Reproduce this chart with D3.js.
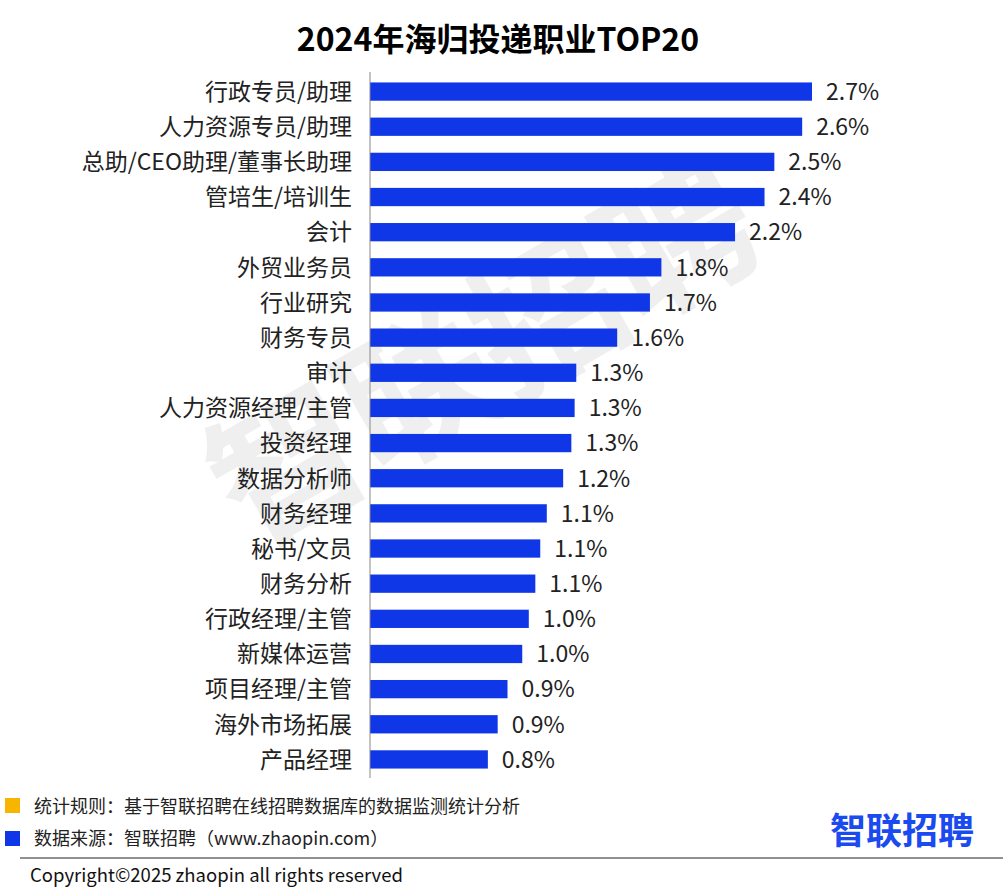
<!DOCTYPE html>
<html><head><meta charset="utf-8">
<script src="https://cdn.jsdelivr.net/npm/d3@7"></script>
<style>body{margin:0;background:#fff;font-family:"Noto Sans CJK SC","Noto Sans",sans-serif;}</style>
</head><body><svg id="chart" width="1003" height="894"></svg>
<script>
// categories, bar values (%), printed labels
var categories = ["行政专员/助理","人力资源专员/助理","总助/CEO助理/董事长助理","管培生/培训生","会计","外贸业务员","行业研究","财务专员","审计","人力资源经理/主管","投资经理","数据分析师","财务经理","秘书/文员","财务分析","行政经理/主管","新媒体运营","项目经理/主管","海外市场拓展","产品经理"];
var values = [2.70,2.64,2.47,2.41,2.23,1.78,1.71,1.51,1.26,1.25,1.23,1.18,1.08,1.04,1.01,0.97,0.93,0.84,0.78,0.72];
var labels = ["2.7%","2.6%","2.5%","2.4%","2.2%","1.8%","1.7%","1.6%","1.3%","1.3%","1.3%","1.2%","1.1%","1.1%","1.1%","1.0%","1.0%","0.9%","0.9%","0.8%"];

var svg = d3.select("#chart");
var x0 = 370;
var x = d3.scaleLinear().domain([0, 2.7]).range([x0, 812]);
var y = d3.scaleBand().domain(categories).range([74, 777]).paddingInner(0.48).paddingOuter(0.24);

// watermark
svg.append("text").attr("transform","translate(510,400) rotate(-30)")
    .attr("text-anchor","middle").style("font-size","150px").style("font-weight","bold")
    .attr("fill","#000").attr("opacity",0.06).text("智联招聘");

svg.append("text").attr("x",498).attr("y",51).attr("text-anchor","middle")
    .style("font-size","32px").style("font-weight","bold").text("2024年海归投递职业TOP20");

svg.selectAll(".bar").data(categories).enter().append("rect")
    .attr("x", x0).attr("y", function(d){return y(d);})
    .attr("width", function(d,i){return x(values[i]) - x0;})
    .attr("height", y.bandwidth()).attr("fill","#0f37e8");

svg.selectAll(".cat").data(categories).enter().append("text")
    .attr("x",352).attr("y",function(d){return y(d)+y.bandwidth()/2;})
    .attr("dy","0.36em").attr("text-anchor","end").style("font-size","23px").attr("fill","#222")
    .text(function(d){return d;});

svg.selectAll(".val").data(categories).enter().append("text")
    .attr("x",function(d,i){return x(values[i])+14;})
    .attr("y",function(d){return y(d)+y.bandwidth()/2;})
    .attr("dy","0.36em").style("font-size","23px").attr("fill","#222")
    .text(function(d,i){return labels[i];});

svg.append("line").attr("x1",x0).attr("x2",x0).attr("y1",72).attr("y2",778)
    .attr("stroke","#888").attr("stroke-width",1);

// footer
svg.append("rect").attr("x",5).attr("y",798).attr("width",15).attr("height",15).attr("fill","#f7b500");
svg.append("rect").attr("x",5).attr("y",831).attr("width",15).attr("height",15).attr("fill","#0f37e8");
svg.append("text").attr("x",34).attr("y",813).style("font-size","18px").attr("fill","#222")
    .text("统计规则：基于智联招聘在线招聘数据库的数据监测统计分析");
svg.append("text").attr("x",34).attr("y",845).style("font-size","18px").attr("fill","#222")
    .text("数据来源：智联招聘（www.zhaopin.com）");
svg.append("text").attr("x",902).attr("y",844).attr("text-anchor","middle")
    .style("font-size","36px").style("font-weight","bold").attr("fill","#1a4af0").text("智联招聘");
svg.append("line").attr("x1",20).attr("x2",1003).attr("y1",858).attr("y2",858).attr("stroke","#222");
svg.append("text").attr("x",30).attr("y",882).style("font-size","18.5px").attr("fill","#111")
    .text("Copyright©2025 zhaopin all rights reserved");
</script></body></html>
